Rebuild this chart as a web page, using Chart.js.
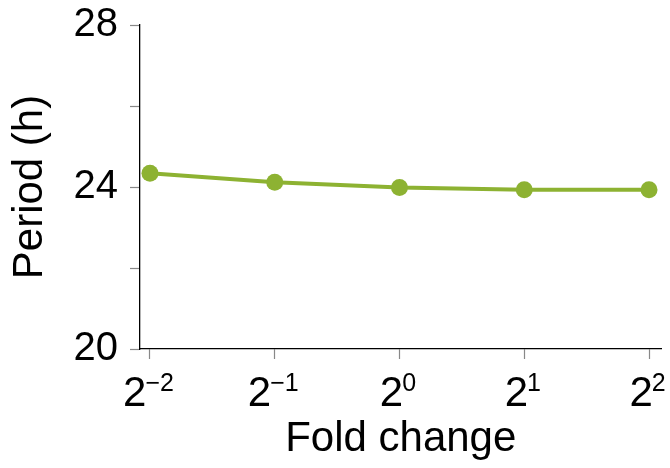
<!DOCTYPE html>
<html>
<head>
<meta charset="utf-8">
<script src="https://cdn.jsdelivr.net/npm/chart.js@4/dist/chart.umd.min.js"></script>
<style>
  html, body { margin: 0; padding: 0; background: #fff; }
</style>
</head>
<body>
<canvas id="c" width="670" height="468"></canvas>
<script>
// log2 of the fold change, and the period measured at each level
const exponents = [-2, -1, 0, 1, 2];
const periods = [24.34, 24.12, 23.99, 23.93, 23.93];
// y axis: tick every 2 h, labels only on 20, 24, 28
const yTickLabels = { 20: '20', 24: '24', 28: '28' };
// x tick labels written as powers of two
const tickBase = '2';
const tickExponents = { '-2': '\u22122', '-1': '\u22121', '0': '0', '1': '1', '2': '2' };

const FONT = '"Liberation Sans", Arial, Helvetica, sans-serif';
const LINE_COLOR = '#8db232';

// draws "2" with a superscript exponent under every x tick
const powerTickLabels = {
  id: 'powerTickLabels',
  afterDraw(chart) {
    const { ctx } = chart;
    const xs = chart.scales.x;
    const baseFont = '42px ' + FONT;
    const supFont = '25px ' + FONT;
    ctx.save();
    ctx.fillStyle = '#000';
    ctx.textBaseline = 'alphabetic';
    ctx.textAlign = 'left';
    xs.ticks.forEach(t => {
      const exp = tickExponents[String(t.value)];
      ctx.font = baseFont;
      const bw = ctx.measureText(tickBase).width;
      ctx.font = supFont;
      const ew = ctx.measureText(exp).width;
      const cx = xs.getPixelForValue(t.value);
      const left = cx - (bw + ew) / 2 - 1;
      ctx.font = baseFont;
      ctx.fillText(tickBase, left, xs.top + 57);
      ctx.font = supFont;
      ctx.fillText(exp, left + bw - 1, xs.top + 42);
    });
    ctx.restore();
  }
};

new Chart(document.getElementById('c'), {
  type: 'line',
  data: {
    datasets: [{
      data: exponents.map((e, i) => ({ x: e, y: periods[i] })),
      borderColor: LINE_COLOR,
      backgroundColor: LINE_COLOR,
      borderWidth: 4,
      pointRadius: 8.5,
      pointBorderWidth: 0,
      pointBackgroundColor: LINE_COLOR,
      tension: 0
    }]
  },
  options: {
    responsive: false,
    animation: false,
    devicePixelRatio: 1,
    layout: { padding: { top: 25, right: 8, bottom: 0, left: 0 } },
    plugins: { legend: { display: false }, tooltip: { enabled: false } },
    scales: {
      x: {
        type: 'linear',
        min: -2.08,
        max: 2.1,
        afterBuildTicks: s => { s.ticks = exponents.map(v => ({ value: v })); },
        afterFit: s => { s.height = 119; s.paddingLeft = 0; s.paddingRight = 0; },
        ticks: { display: false },
        grid: { drawOnChartArea: false, drawTicks: true, tickLength: 10, tickColor: '#888', tickWidth: 1.2 },
        border: { display: true, color: '#000', width: 1.3 },
        title: {
          display: true,
          text: 'Fold change',
          color: '#000',
          font: { family: FONT, size: 42, lineHeight: 1.2 },
          padding: { top: 0, bottom: 3 }
        }
      },
      y: {
        min: 20,
        max: 28,
        afterFit: s => { s.width = 140; s.paddingTop = 0; s.paddingBottom = 0; },
        ticks: {
          stepSize: 2,
          padding: 12,
          color: '#000',
          font: { family: FONT, size: 40 },
          callback: v => yTickLabels[v] || ''
        },
        grid: { drawOnChartArea: false, drawTicks: true, tickLength: 10, tickColor: '#888', tickWidth: 1.2 },
        border: { display: true, color: '#000', width: 1.3 },
        title: {
          display: true,
          text: 'Period (h)',
          color: '#000',
          font: { family: FONT, size: 42, lineHeight: 1.2 },
          padding: { top: 5, bottom: 0 }
        }
      }
    }
  },
  plugins: [powerTickLabels]
});
</script>
</body>
</html>
